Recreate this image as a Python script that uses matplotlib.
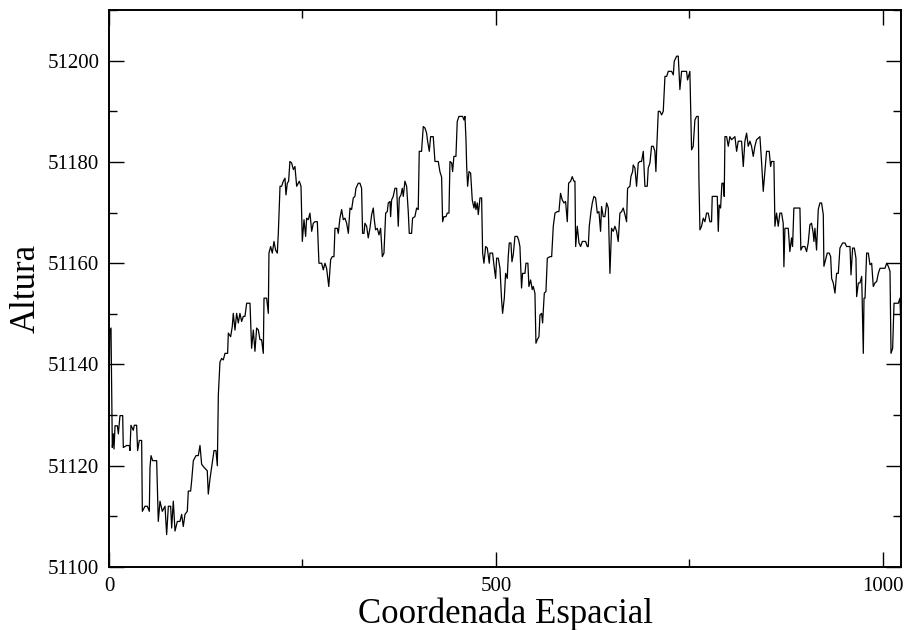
# perfil de altura ao longo da coordenada espacial
import matplotlib
matplotlib.use("Agg")
import matplotlib.pyplot as plt
from matplotlib.ticker import MultipleLocator

plt.rcParams["font.family"] = ["Liberation Serif", "DejaVu Serif"]

# -----------------------------
# dados
# -----------------------------

coord = [
    0, 1, 2.6, 4.3, 5.6, 6.5, 7.8, 10.8, 12.1, 14.2, 17.7, 18.5, 22.8, 26.3,
    27.1, 28.4, 31.4, 32.7, 35.7, 37, 39.2, 42.2, 43.1, 46.5, 49.5, 52.1, 53,
    54.3, 56.4, 61.6, 63.7, 65.9, 68.9, 72.4, 74.5, 76.7, 79.7, 81, 83.1, 85.3,
    88.3, 91.7, 93.9, 96, 98.2, 101.2, 102.5, 105.5, 106.8, 109, 112.4, 115.4,
    117.6, 119.7, 122.7, 127, 128.3, 130.5, 132.6, 135.7, 138.2, 140, 141.3,
    143.4, 145.6, 147.7, 149.9, 153.3, 154.2, 157.2, 159.3, 160.6, 162.8,
    164.9, 167.1, 169.2, 171.4, 173.6, 175.7, 177.9, 182.2, 184.3, 186.5,
    188.6, 190.8, 193, 195.1, 197.2, 199.4, 200.3, 203.7, 205.9, 206.7, 208.9,
    211, 213.2, 215.3, 217.5, 218.8, 221, 223.1, 225.2, 227.4, 228.7, 230.4,
    232.1, 233.8, 236, 238.2, 240.3, 242.5, 245.9, 248.1, 249.8, 252, 254.1,
    255.4, 257.5, 259.7, 261.9, 264, 266.1, 269.2, 271.3, 274.8, 276.9, 279.1,
    281.2, 283.4, 284, 286.4, 288.5, 290.7, 292, 295, 296.3, 298.4, 300.6,
    302.8, 304.9, 307.1, 309.3, 311.4, 313.5, 315.7, 317.8, 319.1, 322.1,
    324.3, 326.4, 327.7, 329.5, 330.7, 332.9, 335, 337.2, 339.4, 341.5, 342.8,
    344.5, 346.7, 348.9, 351, 353.2, 355.3, 357.5, 359.6, 360.9, 363.1, 363.9,
    365.2, 367.3, 369.5, 371.7, 373.8, 375.1, 377.3, 379, 380.3, 382.4, 384.6,
    386.7, 388, 391, 392.3, 395.3, 397.5, 399.6, 400.9, 403.9, 406.1, 408.3,
    410.4, 411.7, 413.9, 415.6, 419, 421.2, 425.5, 427.6, 429.8, 431.1, 432.8,
    435.4, 437.1, 439.3, 440.6, 442.8, 444, 445.7, 448.3, 450, 452.2, 456.9,
    458.7, 460, 461.3, 462.2, 463.4, 465.2, 467.3, 469.4, 471.6, 472.9, 474.2,
    475.9, 477.2, 479.4, 481.5, 482.8, 484.5, 486.7, 488.8, 491.4, 492.3,
    495.7, 497.4, 499.6, 500.9, 503, 505.2, 507.3, 508.6, 510.8, 512.5, 514.6,
    515.9, 517.2, 519.4, 520.7, 522.4, 524.6, 527.6, 529.3, 531, 533.1, 534.4,
    537.5, 538.8, 541.3, 542.6, 544.8, 546.9, 548.2, 550.4, 551.7, 553.4,
    555.6, 556.9, 559, 560.3, 562.5, 564.6, 566.4, 569.8, 572, 574.1, 576.3,
    579.3, 581.4, 583.5, 585.7, 587.9, 590, 592.2, 593.9, 596.5, 598.6, 600.8,
    602.1, 603, 605.1, 607.3, 609.4, 611.6, 615.9, 618, 619.3, 620.6, 622.8,
    624.5, 626.6, 628.8, 631, 633.1, 635.2, 636.5, 638.7, 640.8, 643, 645.2,
    647.3, 649.4, 651.6, 653.7, 655.9, 658, 660.2, 662.4, 664.5, 666.7, 668.8,
    670.1, 673.1, 674.4, 676.6, 677.4, 679.6, 681.7, 683.9, 686, 688.2, 690.4,
    692.5, 695.5, 696.8, 699, 701.1, 703.3, 705.4, 706.7, 707.6, 709.8, 711.9,
    714.1, 716.2, 718.4, 720.6, 722.7, 727, 729.2, 730.4, 733.5, 735.6, 737.7,
    739.9, 746.3, 747.6, 750.6, 752.8, 754.9, 757.1, 759.3, 761.4, 762.3,
    763.6, 765.7, 767.9, 770, 772.2, 774.3, 776.5, 778.6, 779.5, 786, 787.3,
    788.5, 790.3, 792, 793.7, 795, 795.9, 798.1, 800.2, 802.3, 804.5, 808.8,
    811, 813.1, 817.4, 819.6, 821.7, 823.9, 826, 828.2, 830.3, 832.5, 834.6,
    836.8, 841.1, 843.2, 845.4, 847.5, 849.7, 853.1, 854.9, 856.2, 859.2,
    860.5, 862.6, 864.8, 866.9, 869.1, 871.2, 872.1, 873.4, 877.7, 879.8, 882,
    883.3, 885, 892.8, 894, 896.2, 899.2, 901.4, 903.5, 905.7, 907.8, 910,
    910.9, 912.2, 914.3, 916.5, 918.6, 920.8, 923, 923.8, 926, 928.1, 930.7,
    932.5, 933.8, 935.9, 938.1, 940.2, 942.4, 944.5, 948, 951, 953.1, 957.5,
    958.8, 960.9, 963.1, 965.2, 966.1, 968.3, 970.4, 972.6, 974.7, 975.6,
    976.9, 979, 981.2, 983.3, 985.5, 987.6, 989.8, 992, 994.1, 996.3, 1002.7,
    1004.9, 1007, 1009.2, 1010.5, 1012.6, 1014.4, 1016.9, 1019.9, 1022.1,
    1023.4,
]

altura = [
    51130, 51146.5, 51147.2, 51123.6, 51126.3, 51123.3, 51127.9, 51127.9,
    51126.3, 51129.9, 51129.9, 51123.6, 51124, 51124, 51123, 51128, 51127,
    51128, 51128, 51123, 51125, 51125, 51111, 51112, 51112, 51111, 51119.7,
    51122, 51121, 51121, 51109, 51113, 51111, 51112, 51106.4, 51112, 51112,
    51107.7, 51113, 51107.1, 51109, 51109, 51110.4, 51108, 51110.4, 51111,
    51115, 51115, 51117, 51121, 51122, 51122, 51124, 51120.3, 51119.7, 51119,
    51114.4, 51117.4, 51119.7, 51123, 51123, 51120, 51134,
    51140.5, 51141.2, 51140.9, 51142.2, 51142.2, 51146.2, 51145.5, 51147.5,
    51150.1, 51146.8, 51150.1, 51148.2, 51150.1, 51148.5, 51149.5, 51149.5,
    51152.1, 51152.1, 51143.2, 51146.8, 51142.6, 51147.2, 51146.8, 51144.9,
    51144.9, 51142.2, 51153.1, 51153.1, 51150.1, 51162, 51163.3, 51162,
    51164.3, 51162.6, 51162, 51165.9, 51175.2, 51175.2, 51176.2, 51176.8,
    51173.5, 51175.8, 51176.2, 51180.1, 51179.8, 51178.5, 51179.1, 51175.2,
    51176.2, 51175.2, 51164.3, 51168.6, 51165.3, 51168.9, 51168.6, 51169.9,
    51166.3, 51167.9, 51168.2, 51168.2, 51160, 51160, 51158.7, 51160, 51159,
    51156.1, 51155.4, 51160.7, 51161.3, 51161.3, 51166.9, 51166.9, 51165.9,
    51168.9, 51170.6, 51168.6, 51168.9, 51167.9, 51165.9, 51170.9, 51170.6,
    51172.9, 51173.2, 51174.8, 51175.8, 51175.8, 51174.8, 51165.9, 51165.9,
    51167.9, 51167.3, 51165, 51166.9, 51169.6, 51170.9, 51168.6, 51166.6,
    51166.9, 51165.6, 51166.9, 51161.3, 51162, 51169.9, 51170.2, 51171.9,
    51172.2, 51169.2, 51172.5, 51173.2, 51174.8, 51174.8, 51167.3, 51172.9,
    51173.5, 51174.8, 51173.2, 51176.2, 51175.2, 51170.2, 51165.9, 51165.9,
    51168.9, 51169.2, 51170.9, 51170.6, 51182.1, 51182.1, 51187, 51186.7,
    51185.7, 51184.1, 51182.1, 51185, 51185, 51180.1, 51180.1, 51178.1,
    51177, 51168.2, 51169.2, 51169.2, 51169.9, 51169.9, 51180.1, 51179.8,
    51178.1, 51181.1, 51181.1, 51188, 51189, 51189, 51188.3, 51189, 51184.4,
    51179.1, 51175.2, 51178.1, 51177.8, 51172.5, 51170.9, 51172.2, 51170.6,
    51171.9, 51169.6, 51172.9, 51172.9, 51162, 51160, 51163.3, 51163, 51160,
    51162, 51162, 51159.7, 51157, 51161, 51161, 51159, 51152.8, 51150.1,
    51153.1, 51158, 51157, 51161.3, 51164, 51164, 51160.3, 51161.7, 51165.3,
    51165.3, 51164.6, 51163.3, 51155.1, 51158, 51158, 51160, 51160, 51155.4,
    51156.7, 51154.8, 51155.4, 51154.1, 51144.2, 51144.9, 51145.5, 51149.8,
    51150.1, 51148.2, 51154.1, 51154.4, 51161, 51161.3, 51161.3, 51167.3,
    51169.9, 51170.2, 51170.2, 51173.8, 51172.5, 51171.9, 51172.2, 51168.2,
    51175.8, 51176.2, 51177.1, 51176.2, 51176.2, 51163.3, 51167.3, 51164,
    51163.3, 51164.3, 51164.3, 51163.3, 51163.3, 51167.3, 51170.2, 51171.9,
    51173.2, 51172.9, 51169.9, 51170.2, 51166.3, 51171.2, 51169.2, 51169.2,
    51171.9, 51170.9, 51158, 51166.9, 51166.3, 51167.3, 51166.3, 51164.3,
    51169.9, 51170.2, 51170.9, 51169.6, 51168.2, 51174.8, 51175.2, 51177.1,
    51178.1, 51179.4, 51178.8, 51175.2, 51179.8, 51180.1, 51180.1, 51182.1,
    51175.2, 51175.2, 51178.8, 51179.8, 51183.1, 51183.1, 51182.1, 51178.1,
    51182.1, 51190, 51190, 51189.3, 51190, 51196.9, 51196.9, 51197.9,
    51197.9, 51197.2, 51199.9, 51200.9, 51200.9, 51194.3, 51197.9, 51197.9,
    51196.2, 51197.9, 51182.4, 51183.1, 51188.3, 51189, 51189, 51176.5,
    51166.6, 51167.3, 51168.9, 51168.2, 51169.9, 51169.9, 51168.2, 51168.2,
    51173.2, 51173.2, 51166.3, 51171.5, 51170.9, 51175.8, 51175.8, 51173.2,
    51185, 51185, 51183.1, 51185, 51184.4, 51185, 51182.1, 51184.1, 51184.1,
    51179.1, 51184.1, 51185.7, 51183.1, 51184.1, 51183.1, 51181.1, 51183.1,
    51184.4, 51185, 51180.1, 51174.2, 51178.1, 51182.1, 51182.1, 51179.1,
    51180.1, 51180.1, 51167.3, 51169.9, 51167.3, 51169.9, 51169.9, 51167.9,
    51159.3, 51166.9, 51166.9, 51162.3, 51165, 51163.3, 51170.9, 51170.9,
    51162.6, 51163.3, 51163.3, 51162.3, 51164, 51167.6, 51167.9, 51165.9,
    51164.3, 51166.9, 51162.6, 51170.6, 51171.9, 51171.9, 51169.6, 51159.4,
    51160.7, 51162, 51162, 51161.3, 51157, 51156.1, 51154.1, 51158, 51158,
    51163, 51164, 51164, 51163.3, 51163.3, 51157.7, 51163, 51163, 51161,
    51153.4, 51156.1, 51156.1, 51157.4, 51142.2, 51153.1, 51153.1, 51162,
    51162, 51159.7, 51160, 51155.4, 51156.1, 51156.4, 51158, 51159, 51159,
    51160, 51159.4, 51158.4, 51142.2, 51143.2, 51152.1, 51152.1, 51152.1,
    51153.1, 51146.2,
]

# -----------------------------
# figura
# -----------------------------

fig = plt.figure(figsize=(9.09, 6.30), dpi=100)
ax = fig.add_axes([0.1199, 0.1, 0.8718, 0.884])

ax.plot(coord, altura, color="black", lw=0.9)

ax.set_xlim(0, 1024)
ax.set_ylim(51100, 51210)

ax.xaxis.set_major_locator(MultipleLocator(500))
ax.xaxis.set_minor_locator(MultipleLocator(250))
ax.yaxis.set_major_locator(MultipleLocator(20))
ax.yaxis.set_minor_locator(MultipleLocator(10))

ax.tick_params(which="both", direction="in", top=True, right=True,
               width=1.0, labelsize=15, pad=7)
ax.tick_params(which="major", length=11)
ax.tick_params(which="minor", length=5.5)

for s in ax.spines.values():
    s.set_linewidth(1.4)

ax.set_xlabel("Coordenada Espacial", fontsize=25, labelpad=1)
ax.set_ylabel("Altura", fontsize=25, labelpad=3)

fig.savefig("out.png", dpi=100)
